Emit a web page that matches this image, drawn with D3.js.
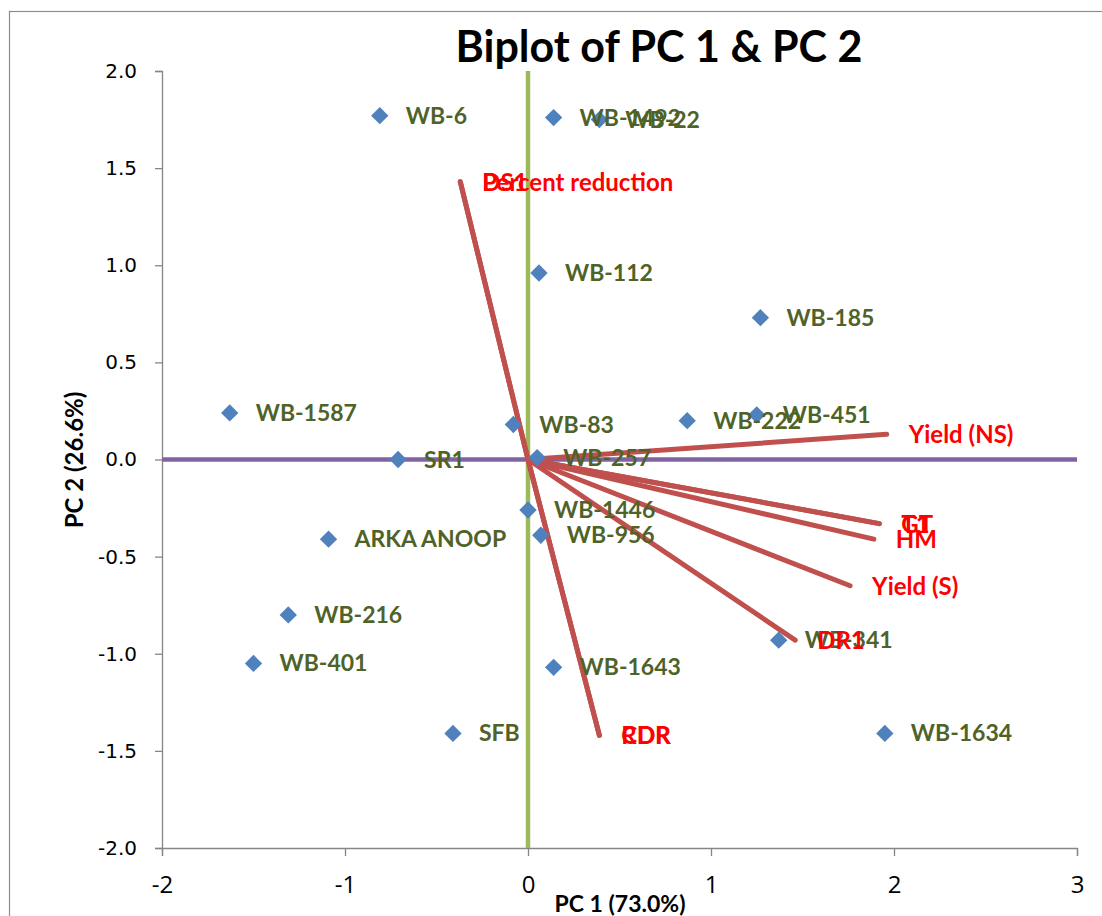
<!DOCTYPE html>
<html><head><meta charset="utf-8">
<script src="https://cdn.jsdelivr.net/npm/d3@7"></script>
<style>body{margin:0;background:#fff;} svg{display:block;}
.yax .tick text{font-family:'DejaVu Sans',sans-serif;font-size:20px;fill:#000;}
.xax .tick text{font-family:'Liberation Sans Narrow','Open Sans',sans-serif;font-size:24px;fill:#000;}
</style>
</head><body>
<svg id="chart" width="1102" height="916"></svg>
<script>
const genotypes = ["WB-6","WB-1492","WB-22","WB-112","WB-185","WB-1587","WB-83","WB-222","WB-451","SR1","WB-257","WB-1446","WB-956","ARKA ANOOP","WB-216","WB-401","WB-1643","WB-341","SFB","WB-1634"];
const pc1Scores = [-0.81,0.14,0.39,0.06,1.27,-1.63,-0.08,0.87,1.25,-0.71,0.05,0.00,0.07,-1.09,-1.31,-1.50,0.14,1.37,-0.41,1.95];
const pc2Scores = [1.77,1.76,1.75,0.96,0.73,0.24,0.18,0.20,0.23,0.00,0.01,-0.26,-0.39,-0.41,-0.80,-1.05,-1.07,-0.93,-1.41,-1.41];
const traits = ["DS1","Percent reduction","Yield (NS)","GT","T1","HM","Yield (S)","DR1","RDR","CDR"];
const pc1Loadings = [-0.37,-0.37,1.96,1.92,1.92,1.89,1.76,1.46,0.39,0.39];
const pc2Loadings = [1.43,1.43,0.13,-0.33,-0.33,-0.41,-0.65,-0.93,-1.42,-1.42];
const xTicks = [-2,-1,0,1,2,3];
const yTicks = [-2.0,-1.5,-1.0,-0.5,0.0,0.5,1.0,1.5,2.0];

const svg = d3.select("#chart");
const x = d3.scaleLinear().domain([-2,3]).range([162,1077]);
const y = d3.scaleLinear().domain([-2,2]).range([848,71]);
const F = "Lato, 'Open Sans', sans-serif";

// outer frame
svg.append("rect").attr("x",9.5).attr("y",11.5).attr("width",1100).attr("height",910)
  .attr("fill","none").attr("stroke","#8c8c8c").attr("stroke-width",1.2);

// title
svg.append("text").attr("x",659).attr("y",62).attr("text-anchor","middle")
  .style("font-family",F).style("font-weight","bold").style("font-size","43px").attr("fill","#000")
  .text("Biplot of PC 1 & PC 2");

// axes
const hy = s => s.replace("\u2212","-");
const yAxis = d3.axisLeft(y).tickValues(yTicks).tickFormat(d=>hy(d3.format(".1f")(d))).tickSize(7).tickPadding(18);
const gy = svg.append("g").attr("class","yax").attr("transform","translate(162,0)").call(yAxis);
const xAxis = d3.axisBottom(x).tickValues(xTicks).tickFormat(d=>hy(String(d))).tickSize(8).tickPadding(20);
const gx = svg.append("g").attr("class","xax").attr("transform","translate(0,848)").call(xAxis);
gy.attr("font-size",20).attr("font-family","'DejaVu Sans', sans-serif");
gx.attr("font-size",24).attr("font-family","'Liberation Sans Narrow', sans-serif");
[gy,gx].forEach(g=>{
  g.select(".domain").attr("stroke","#868686").attr("stroke-width",1.3);
  g.selectAll(".tick line").attr("stroke","#868686").attr("stroke-width",1.3);
});

// axis titles
svg.append("text").attr("x",620).attr("y",912).attr("text-anchor","middle")
  .style("font-family","'Liberation Sans Narrow', Lato, sans-serif").style("font-weight","bold").style("font-size","23px")
  .text("PC 1 (73.0%)");
svg.append("text").attr("transform","translate(83,460) rotate(-90)").attr("text-anchor","middle")
  .style("font-family",F).style("font-weight","bold").style("font-size","24px")
  .text("PC  2 (26.6%)");

// reference lines
svg.append("line").attr("x1",x(-2)).attr("x2",x(3)).attr("y1",y(0)).attr("y2",y(0))
  .attr("stroke","#8064A2").attr("stroke-width",4.5);
svg.append("line").attr("x1",x(0)).attr("x2",x(0)).attr("y1",y(-2)).attr("y2",y(2))
  .attr("stroke","#9BBB59").attr("stroke-width",4.5);

// vectors
const tIdx = d3.range(traits.length);
svg.append("g").selectAll("line").data(tIdx).join("line")
  .attr("x1",x(0)).attr("y1",y(0))
  .attr("x2",i=>x(pc1Loadings[i])).attr("y2",i=>y(pc2Loadings[i]))
  .attr("stroke","#C0504D").attr("stroke-width",5).attr("stroke-linecap","round");

// points
const gIdx = d3.range(genotypes.length);
const sym = d3.symbol().type(d3.symbolSquare).size(150);
svg.append("g").selectAll("path").data(gIdx).join("path")
  .attr("d",sym)
  .attr("transform",i=>`translate(${x(pc1Scores[i])},${y(pc2Scores[i])}) rotate(45)`)
  .attr("fill","#4F81BD");

// point labels
svg.append("g").selectAll("text").data(gIdx).join("text")
  .attr("x",i=>x(pc1Scores[i])+26).attr("y",i=>y(pc2Scores[i])+8)
  .style("font-family",F).style("font-weight","bold").style("font-size","23px")
  .attr("fill","#4F6228").text(i=>genotypes[i]);

// vector labels
svg.append("g").selectAll("text").data(tIdx).join("text")
  .attr("x",i=>x(pc1Loadings[i])+22).attr("y",i=>y(pc2Loadings[i])+9)
  .style("font-family",F).style("font-weight","bold").style("font-size","24px")
  .attr("fill","#FF0000").text(i=>traits[i]);
</script>
</body></html>
